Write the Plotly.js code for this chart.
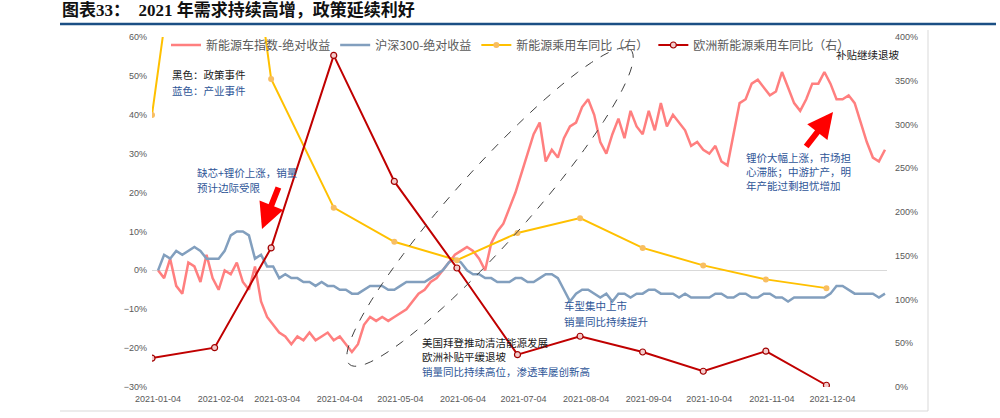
<!DOCTYPE html>
<html><head><meta charset="utf-8">
<script src="https://cdn.plot.ly/plotly-3.0.1.min.js"></script>
<style>html,body{margin:0;padding:0;background:#fff}#chart{width:1000px;height:418px}</style>
</head><body><div id="chart"></div>
<script>
// ---------- data ----------
const dailyDates = ['2021-01-04','2021-01-07','2021-01-10','2021-01-13','2021-01-16','2021-01-19','2021-01-22','2021-01-25','2021-01-28','2021-01-31',
'2021-02-03','2021-02-06','2021-02-09','2021-02-12','2021-02-15','2021-02-18','2021-02-21','2021-02-24','2021-02-27','2021-03-02',
'2021-03-05','2021-03-08','2021-03-11','2021-03-14','2021-03-17','2021-03-20','2021-03-23','2021-03-26','2021-03-29','2021-04-01',
'2021-04-04','2021-04-07','2021-04-10','2021-04-13','2021-04-16','2021-04-19','2021-04-22','2021-04-25','2021-04-28','2021-05-01',
'2021-05-04','2021-05-07','2021-05-10','2021-05-13','2021-05-16','2021-05-19','2021-05-22','2021-05-25','2021-05-28','2021-05-31',
'2021-06-03','2021-06-06','2021-06-09','2021-06-12','2021-06-15','2021-06-18','2021-06-21','2021-06-24','2021-06-27','2021-06-30',
'2021-07-03','2021-07-06','2021-07-09','2021-07-12','2021-07-15','2021-07-18','2021-07-21','2021-07-24','2021-07-27','2021-07-30',
'2021-08-02','2021-08-05','2021-08-08','2021-08-11','2021-08-14','2021-08-17','2021-08-20','2021-08-23','2021-08-26','2021-08-29',
'2021-09-01','2021-09-04','2021-09-07','2021-09-10','2021-09-13','2021-09-16','2021-09-19','2021-09-22','2021-09-25','2021-09-28',
'2021-10-01','2021-10-04','2021-10-07','2021-10-10','2021-10-13','2021-10-16','2021-10-19','2021-10-22','2021-10-25','2021-10-28',
'2021-10-31','2021-11-03','2021-11-06','2021-11-09','2021-11-12','2021-11-15','2021-11-18','2021-11-21','2021-11-24','2021-11-27',
'2021-11-30','2021-12-03','2021-12-06','2021-12-09','2021-12-12','2021-12-15','2021-12-18','2021-12-21','2021-12-24','2021-12-27',
'2021-12-30'];

// 新能源车指数-绝对收益 (%)
const nevIndexReturn = [0,-2,3,-4,-6,2,1,-3,4,-2,
 -5,0,-1,2,-3,-5,1,-8,-12,-14,
 -16,-17,-19,-17,-18,-16,-18,-17,-16,-18,
 -17,-19,-21,-19,-14,-12,-13,-12,-13,-12,
 -11,-10,-8,-6,-5,-3,-2,0,2,4,
 5,6,5,3,0,7,10,12,16,20,
 25,30,35,38,28,31,29,34,37,38,
 42,44,40,33,30,35,39,34,41,37,
 35,41,36,43,37,40,38,36,32,33,
 31,30,32,28,27,35,43,44,48,49,
 47,45,46,51,47,43,41,44,48,48,
 51,48,44,44,45,43,38,33,29,28,
 31];

// 沪深300-绝对收益 (%)
const hs300Return = [0,4,3,5,4,5,6,5,3,3,
 3,5,9,10,10,9,3,4,1,1,
 -2,-1,-2,-2,-3,-3,-4,-3,-4,-4,
 -5,-5,-6,-6,-5,-4,-4,-4,-5,-5,
 -4,-3,-3,-3,-3,-2,-1,0,2,3,
 2,0,-1,-1,-2,-2,-3,-3,-3,-2,
 -2,-3,-3,-2,-1,-1,-2,-5,-8,-6,
 -5,-5,-6,-7,-6,-8,-6,-6,-7,-6,
 -6,-5,-5,-6,-6,-6,-7,-6,-7,-7,
 -7,-7,-6,-6,-7,-7,-6,-6,-7,-7,
 -6,-6,-7,-7,-8,-7,-7,-7,-7,-7,
 -7,-6,-4,-4,-5,-6,-6,-6,-6,-7,
 -6];

const monthDates = ['2021-01-01','2021-02-01','2021-03-01','2021-04-01','2021-05-01','2021-06-01',
 '2021-07-01','2021-08-01','2021-09-01','2021-10-01','2021-11-01','2021-12-01'];
// 新能源乘用车同比（右） (%)
const chinaNevYoY = [311, 830, 352, 205, 166, 145, 176, 193, 159, 139, 123, 113];
// 欧洲新能源乘用车同比（右） (%)
const europeNevYoY = [33, 45, 159, 379, 235, 136, 37, 58, 40, 18, 41, 2];

const tickDates = ['2021-01-04','2021-02-04','2021-03-04','2021-04-04','2021-05-04','2021-06-04',
 '2021-07-04','2021-08-04','2021-09-04','2021-10-04','2021-11-04','2021-12-04'];
const tickLabels = ['2021-01-04','2021-02-04','2021-03-04','2021-04-04','2021-05-04','2021-06-04',
 '2021-07-04','2021-08-04','2021-09-04','2021-10-04','2021-11-04','2021-12-04'];

const seriesNames = ['新能源车指数-绝对收益','沪深300-绝对收益','新能源乘用车同比（右）','欧洲新能源乘用车同比（右）'];

// ---------- geometry helpers (pixel -> paper) ----------
const L = 152, R = 887, T = 37, B = 387;
const px = v => (v - L) / (R - L);
const py = v => (B - v) / (B - T);

const CJK = '"Noto Sans CJK SC", "Noto Sans", sans-serif';
const BLUE_TXT = '#2E5597';

const traces = [
  {x: dailyDates, y: nevIndexReturn, name: seriesNames[0], type: 'scatter', mode: 'lines',
   line: {color: '#FF7F7F', width: 2.5}, yaxis: 'y'},
  {x: dailyDates, y: hs300Return, name: seriesNames[1], type: 'scatter', mode: 'lines',
   line: {color: '#829FBE', width: 2.5}, yaxis: 'y'},
  {x: monthDates, y: chinaNevYoY, name: seriesNames[2], type: 'scatter', mode: 'lines+markers',
   line: {color: '#FFC000', width: 2}, marker: {color: '#F8BE62', size: 6}, yaxis: 'y2', cliponaxis: true},
  {x: monthDates, y: europeNevYoY, name: seriesNames[3], type: 'scatter', mode: 'lines+markers',
   line: {color: '#C00000', width: 2}, marker: {color: '#F4CCCC', size: 6, line: {color: '#A00000', width: 1.2}},
   yaxis: 'y2', cliponaxis: true}
];

// ellipse (decorative dashed outline)
function ellipsePath(cx, cy, a, b, ux, uy) {
  const vx = -uy, vy = ux;
  let d = '';
  for (let i = 0; i <= 96; i++) {
    const t = 2 * Math.PI * i / 96;
    const X = cx + a * Math.cos(t) * ux + b * Math.sin(t) * vx;
    const Y = cy + a * Math.cos(t) * uy + b * Math.sin(t) * vy;
    d += (i === 0 ? 'M' : 'L') + px(X).toFixed(5) + ',' + py(Y).toFixed(5);
  }
  return d + 'Z';
}
const ulen = Math.hypot(284, -318);
const ellipse = ellipsePath(490, 207, 211, 37, 284 / ulen, -318 / ulen);

const shapes = [
  {type: 'line', xref: 'paper', yref: 'paper', x0: px(60), x1: px(996), y0: py(24), y1: py(24),
   line: {color: '#1B4F84', width: 2.5}},
  {type: 'line', xref: 'paper', yref: 'paper', x0: px(928), x1: px(928), y0: py(30), y1: py(411),
   line: {color: '#D9D9D9', width: 1}},
  {type: 'line', xref: 'paper', yref: 'paper', x0: px(60), x1: px(928), y0: py(411), y1: py(411),
   line: {color: '#D9D9D9', width: 1}},
  {type: 'path', xref: 'paper', yref: 'paper', path: ellipse,
   line: {color: '#404040', width: 1, dash: 'dash'}}
];

function txt(x, y, text, color) {
  return {xref: 'paper', yref: 'paper', x: px(x), y: py(y), xanchor: 'left', yanchor: 'middle',
    text: text, showarrow: false, font: {family: CJK, size: 10.5, color: color}};
}
const annotations = [
  txt(170, 75, '黑色：政策事件', '#1A1A1A'),
  txt(170, 90, '蓝色：产业事件', BLUE_TXT),
  txt(195, 172, '缺芯+锂价上涨，销量', BLUE_TXT),
  txt(195, 187, '预计边际受限', BLUE_TXT),
  txt(420, 342, '美国拜登推动清洁能源发展', '#1A1A1A'),
  txt(420, 356, '欧洲补贴平缓退坡', '#1A1A1A'),
  txt(420, 371, '销量同比持续高位，渗透率屡创新高', BLUE_TXT),
  txt(562, 305, '车型集中上市', BLUE_TXT),
  txt(562, 321, '销量同比持续提升', BLUE_TXT),
  txt(834, 55, '补贴继续退坡', '#1A1A1A'),
  txt(744, 157, '锂价大幅上涨，市场担', BLUE_TXT),
  txt(744, 171, '心滞胀；中游扩产，明', BLUE_TXT),
  txt(744, 185, '年产能过剩担忧增加', BLUE_TXT),
  {xref: 'paper', yref: 'paper', x: px(262), y: py(229), ax: 17, ay: -43, text: '', showarrow: true,
   arrowhead: 2, arrowsize: 0.85, arrowwidth: 6, arrowcolor: '#FF0000'},
  {xref: 'paper', yref: 'paper', x: px(833), y: py(112), ax: -28, ay: 36, text: '', showarrow: true,
   arrowhead: 2, arrowsize: 0.85, arrowwidth: 6, arrowcolor: '#FF0000'}
];

const tickFont = {family: '"Liberation Sans", Arial, sans-serif', size: 9, color: '#595959'};

const layout = {
  width: 1000, height: 418,
  margin: {l: L, r: 1000 - R, t: T, b: 418 - B, pad: 0},
  paper_bgcolor: '#FFFFFF', plot_bgcolor: '#FFFFFF',
  title: {text: '图表33：  2021 年需求持续高增，政策延续利好', x: 62 / 1000, xanchor: 'left',
    y: 1 - 10 / 418, yanchor: 'middle', xref: 'container', yref: 'container',
    font: {family: '"Liberation Serif", "Noto Sans CJK SC", serif', size: 17, color: '#111111', weight: 'bold'}},
  showlegend: true,
  legend: {orientation: 'h', x: px(166), y: py(45), xanchor: 'left', yanchor: 'middle',
    font: {family: CJK, size: 12, color: '#595959'}, bgcolor: 'rgba(0,0,0,0)', itemwidth: 30,
    traceorder: 'normal'},
  xaxis: {type: 'date', range: ['2021-01-01', '2021-12-31'], tickmode: 'array', tickvals: tickDates,
    ticktext: tickLabels, tickfont: tickFont, showgrid: false, zeroline: false, showline: false,
    ticks: '', fixedrange: true, ticklabelstandoff: 5},
  yaxis: {range: [-30, 60], dtick: 10, ticksuffix: '%', tickfont: tickFont, showgrid: false,
    zeroline: true, zerolinecolor: '#D9D9D9', zerolinewidth: 1, showline: false, ticks: '',
    ticklabelstandoff: 4},
  yaxis2: {range: [0, 400], dtick: 50, ticksuffix: '%', overlaying: 'y', side: 'right',
    tickfont: tickFont, showgrid: false, zeroline: false, showline: false, ticks: '',
    ticklabelstandoff: 7},
  shapes: shapes,
  annotations: annotations
};

Plotly.newPlot('chart', traces, layout, {displayModeBar: false, staticPlot: true});
</script>
</body></html>
